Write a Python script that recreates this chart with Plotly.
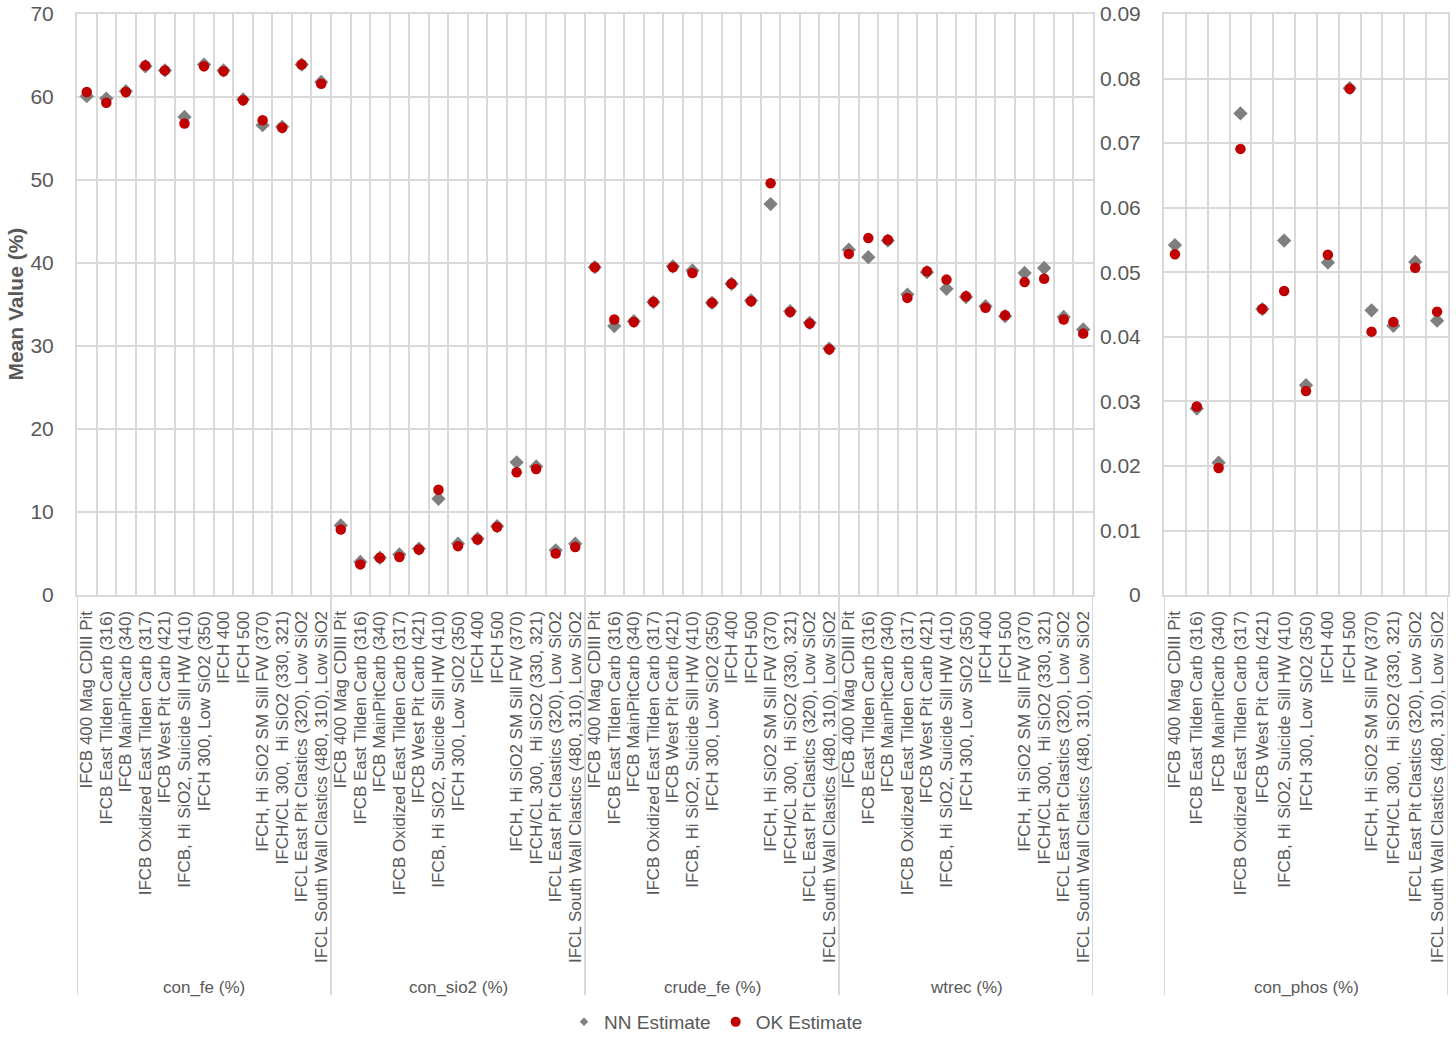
import plotly.graph_objects as go

# ---------------- data ----------------
categories = [
    "IFCB 400 Mag CDIII Pit",
    "IFCB East Tilden Carb (316)",
    "IFCB MainPitCarb (340)",
    "IFCB Oxidized East Tilden Carb (317)",
    "IFCB West Pit Carb (421)",
    "IFCB, Hi SiO2, Suicide Sill HW (410)",
    "IFCH 300, Low SiO2 (350)",
    "IFCH 400",
    "IFCH 500",
    "IFCH, Hi SiO2 SM Sill FW (370)",
    "IFCH/CL 300, \u00a0Hi SiO2 (330, 321)",
    "IFCL East Pit Clastics (320), Low SiO2",
    "IFCL South Wall Clastics (480, 310), Low SiO2",
]

left_groups = ["con_fe (%)", "con_sio2 (%)", "crude_fe (%)", "wtrec (%)"]
right_group = "con_phos (%)"

con_fe_nn = [60.1, 59.8, 60.7, 63.7, 63.2, 57.6, 63.9, 63.2, 59.7, 56.6, 56.4, 63.9, 61.8]
con_fe_ok = [60.6, 59.3, 60.6, 63.8, 63.2, 56.8, 63.7, 63.1, 59.6, 57.2, 56.3, 63.9, 61.6]

con_sio2_nn = [8.4, 4.0, 4.5, 4.9, 5.6, 11.6, 6.2, 6.8, 8.3, 16.0, 15.5, 5.4, 6.2]
con_sio2_ok = [7.9, 3.7, 4.5, 4.6, 5.5, 12.7, 5.9, 6.7, 8.2, 14.8, 15.2, 5.0, 5.8]

crude_fe_nn = [39.5, 32.4, 33.0, 35.3, 39.6, 39.1, 35.2, 37.5, 35.5, 47.1, 34.2, 32.8, 29.7]
crude_fe_ok = [39.5, 33.2, 32.9, 35.3, 39.5, 38.8, 35.2, 37.5, 35.4, 49.6, 34.1, 32.7, 29.6]

wtrec_nn = [41.6, 40.7, 42.7, 36.2, 38.9, 36.9, 35.9, 34.8, 33.6, 38.8, 39.4, 33.5, 32.0]
wtrec_ok = [41.1, 43.0, 42.8, 35.8, 39.0, 38.0, 36.0, 34.6, 33.7, 37.7, 38.1, 33.2, 31.5]

con_phos_nn = [0.0542, 0.0289, 0.0205, 0.0746, 0.0443, 0.0549, 0.0325, 0.0515, 0.0785, 0.0441, 0.0417, 0.0516, 0.0425]
con_phos_ok = [0.0528, 0.0292, 0.0197, 0.0691, 0.0443, 0.0471, 0.0316, 0.0527, 0.0784, 0.0408, 0.0423, 0.0507, 0.0439]

left_nn = [con_fe_nn, con_sio2_nn, crude_fe_nn, wtrec_nn]
left_ok = [con_fe_ok, con_sio2_ok, crude_fe_ok, wtrec_ok]

# ---------------- styling ----------------
W, H = 1456, 1041
FONT = "Liberation Sans, Arial, sans-serif"
TXT = "#595959"
GRID = "#d9d9d9"
NN_COLOR = "#7f7f7f"
OK_COLOR = "#c00000"


def px_x(p):
    return p / W


def px_y(p):
    return 1 - p / H


n = len(categories)
x_left = [g * n + i for g in range(len(left_groups)) for i in range(n)]
lbl_left = categories * len(left_groups)
y_left_nn = [v for grp in left_nn for v in grp]
y_left_ok = [v for grp in left_ok for v in grp]
x_right = list(range(n))

fig = go.Figure()

fig.add_trace(go.Scatter(x=x_left, y=y_left_nn, mode="markers", name="NN Estimate",
                         marker=dict(symbol="diamond", size=11, color=NN_COLOR),
                         showlegend=False, xaxis="x", yaxis="y"))
fig.add_trace(go.Scatter(x=x_left, y=y_left_ok, mode="markers", name="OK Estimate",
                         marker=dict(symbol="circle", size=10.5, color=OK_COLOR),
                         showlegend=False, xaxis="x", yaxis="y"))
fig.add_trace(go.Scatter(x=x_right, y=con_phos_nn, mode="markers", name="NN Estimate",
                         marker=dict(symbol="diamond", size=11, color=NN_COLOR),
                         showlegend=False, xaxis="x2", yaxis="y2"))
fig.add_trace(go.Scatter(x=x_right, y=con_phos_ok, mode="markers", name="OK Estimate",
                         marker=dict(symbol="circle", size=10.5, color=OK_COLOR),
                         showlegend=False, xaxis="x2", yaxis="y2"))
# legend entries (smaller legend symbols like the reference)
fig.add_trace(go.Scatter(x=[None], y=[None], mode="markers", name="NN Estimate",
                         marker=dict(symbol="diamond", size=6.5, color=NN_COLOR),
                         xaxis="x", yaxis="y"))
fig.add_trace(go.Scatter(x=[None], y=[None], mode="markers", name="OK Estimate",
                         marker=dict(symbol="circle", size=10, color=OK_COLOR),
                         xaxis="x", yaxis="y"))

y_dom = [px_y(598), px_y(14)]
left_dom = [px_x(77), px_x(1093)]
right_dom = [px_x(1164), px_x(1448)]

left_bounds = [i - 0.5 for i in range(len(x_left) + 1)]
right_bounds = [i - 0.5 for i in range(n + 1)]

common_x = dict(
    tickangle=-90, tickfont=dict(family=FONT, size=17, color=TXT),
    showgrid=False, zeroline=False, ticks="", showline=True, linecolor=GRID,
    linewidth=2, mirror=True, automargin=False, ticklabelstandoff=7,
)
common_y = dict(
    tickfont=dict(family=FONT, size=21, color=TXT), showgrid=True, gridcolor=GRID,
    gridwidth=2, zeroline=False, ticks="", showline=True, linecolor=GRID, linewidth=2,
    mirror=True, automargin=False, ticklabelstandoff=17, ticklabeloverflow="allow",
)

fig.update_layout(
    width=W, height=H, template="none",
    margin=dict(l=0, r=0, t=0, b=0),
    paper_bgcolor="white", plot_bgcolor="white",
    font=dict(family=FONT, color=TXT),
    xaxis=dict(domain=left_dom, range=[-0.5, len(x_left) - 0.5], anchor="y",
               tickmode="array", tickvals=x_left, ticktext=lbl_left,
               minor=dict(tickmode="array", tickvals=left_bounds, showgrid=True,
                          gridcolor=GRID, gridwidth=2, ticks=""),
               **common_x),
    yaxis=dict(domain=y_dom, range=[0, 70], dtick=10, anchor="x", **common_y),
    xaxis2=dict(domain=right_dom, range=[-0.5, n - 0.5], anchor="y2",
                tickmode="array", tickvals=x_right, ticktext=categories,
                minor=dict(tickmode="array", tickvals=right_bounds, showgrid=True,
                           gridcolor=GRID, gridwidth=2, ticks=""),
                **common_x),
    yaxis2=dict(domain=y_dom, range=[0, 0.09], dtick=0.01, anchor="x2", **common_y),
    legend=dict(orientation="h", x=px_x(716), xanchor="center", y=px_y(1027),
                yanchor="middle",
                font=dict(family=FONT, size=19, color=TXT), bgcolor="rgba(0,0,0,0)",
                itemwidth=30, tracegroupgap=0),
    showlegend=True,
)

# group dividers extending through the label area
shapes = []
for g in range(len(left_groups) + 1):
    xb = g * n - 0.5
    shapes.append(dict(type="line", xref="x", yref="paper", x0=xb, x1=xb,
                       y0=px_y(598), y1=px_y(1000), line=dict(color=GRID, width=2)))
for xb in [-0.5, n - 0.5]:
    shapes.append(dict(type="line", xref="x2", yref="paper", x0=xb, x1=xb,
                       y0=px_y(598), y1=px_y(1000), line=dict(color=GRID, width=2)))
fig.update_layout(shapes=shapes)

annotations = []
for g, name in enumerate(left_groups):
    annotations.append(dict(text=name, xref="x", yref="paper", x=g * n + (n - 1) / 2,
                            y=px_y(992), showarrow=False, yanchor="middle",
                            font=dict(family=FONT, size=17, color=TXT)))
annotations.append(dict(text=right_group, xref="x2", yref="paper", x=(n - 1) / 2,
                        y=px_y(992), showarrow=False, yanchor="middle",
                        font=dict(family=FONT, size=17, color=TXT)))
annotations.append(dict(text="<b>Mean Value (%)</b>", xref="paper", yref="paper",
                        x=px_x(16), y=px_y(306), textangle=-90, showarrow=False,
                        xanchor="center", yanchor="middle",
                        font=dict(family=FONT, size=21, color=TXT)))
fig.update_layout(annotations=annotations)

fig.write_html(
    "out.html",
    config={"displayModeBar": False},
    post_script="document.body.style.margin='0';document.body.style.overflow='hidden';",
)
